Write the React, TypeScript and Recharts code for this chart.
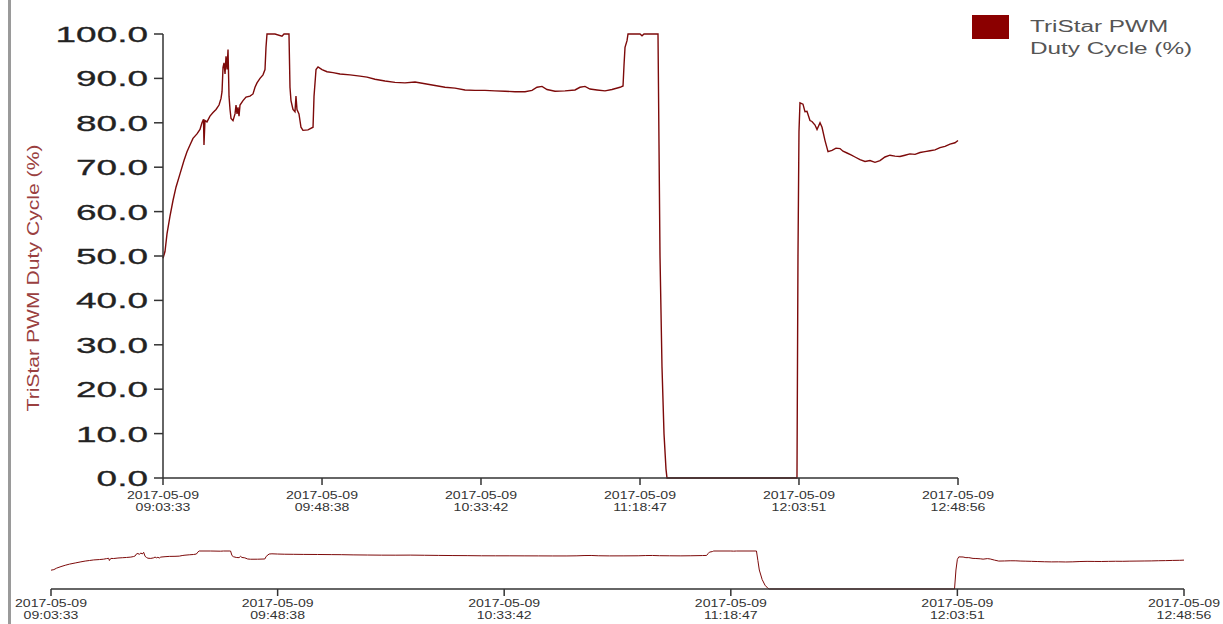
import { LineChart, Line, XAxis, YAxis } from 'recharts';

// seconds elapsed since 2017-05-09 09:03:33
const elapsedSec = [
  0, 34, 68, 119, 170, 221, 289, 357, 408, 459, 510, 578, 629, 663, 689, 697, 714, 748, 799, 851,
  902, 953, 987, 1004, 1021, 1038, 1055, 1072, 1089, 1106, 1123, 1140, 1157, 1191, 1225, 1242, 1259, 1276, 1293, 1310,
  1361, 1412, 1480, 1531, 1565, 1599, 1650, 1701, 1735, 1752, 1769, 1905, 2024, 2058, 2126, 2143, 2160, 2177, 2211, 2245,
  2262, 2279, 2313, 2347, 2381, 2466, 2552, 2569, 2603, 2637, 2705, 2790, 2892, 3011, 3181, 3351, 3470, 3606, 3776, 3946,
  4116, 4287, 4457, 4627, 4797, 4967, 5137, 5307, 5477, 5647, 5817, 5988, 6158, 6277, 6362, 6447, 6532, 6668, 6838, 7008,
  7093, 7178, 7263, 7382, 7518, 7637, 7774, 7825, 7842, 7859, 7893, 7910, 8114, 8148, 8182, 8420, 8437, 8454, 8488, 8522,
  8556, 8573, 10784, 10801, 10818, 10835, 10886, 10920, 10954, 11005, 11039, 11091, 11125, 11176, 11210, 11261, 11312, 11380, 11448, 11516,
  11567, 11635, 11703, 11771, 11856, 11941, 12026, 12111, 12196, 12281, 12366, 12451, 12536, 12621, 12706, 12792, 12877, 12962, 13047, 13132,
  13217, 13302, 13387, 13472, 13523,
];

const dutyCycle = [
  49.5, 51, 55, 59, 62.5, 65.5, 68.5, 71.5, 73.5, 75, 76.5, 77.5, 78.5, 80, 80.8, 75, 80.5, 80.2, 81.5, 82.3,
  83, 84, 85.5, 87, 92.5, 93.5, 91, 95, 92, 96.5, 86, 83, 81, 80.5, 82, 84, 82, 83.5, 81.5, 84,
  85, 85.8, 86, 86.5, 88, 89, 90, 90.8, 92, 97, 100, 100, 99.5, 100, 100, 100, 88, 85, 83, 82.5,
  86, 83, 82, 79, 78.3, 78.4, 79, 86, 92, 92.6, 92, 91.5, 91.3, 91, 90.8, 90.5, 90.3, 89.8, 89.4, 89.1,
  89, 89.2, 88.8, 88.4, 88, 87.8, 87.4, 87.3, 87.3, 87.2, 87.1, 87, 87, 87.3, 88, 88.2, 87.5, 87.1, 87.2, 87.4,
  88, 88.2, 87.6, 87.4, 87.2, 87.5, 88, 88.3, 93, 97, 98.5, 100, 100, 99.6, 100, 100, 75, 50, 25, 10,
  2, 0, 0, 50, 78, 84.5, 84.2, 82.5, 82.6, 80.5, 80.3, 79.5, 78.5, 80, 79, 76, 73.5, 73.8, 74.3, 74.2,
  73.6, 73.2, 72.8, 72.3, 71.7, 71.3, 71.5, 71.1, 71.5, 72.3, 72.7, 72.5, 72.4, 72.7, 73, 72.9, 73.3, 73.5, 73.7, 73.9,
  74.4, 74.7, 75.2, 75.5, 76,
];

const timeTicks = [0, 2705, 5409, 8114, 10818, 13523];
const valueTicks = [0, 10, 20, 30, 40, 50, 60, 70, 80, 90, 100];

const START = 9 * 3600 + 3 * 60 + 33;
const DATE_LABEL = '2017-05-09';
const SERIES_NAME = 'TriStar PWM Duty Cycle (%)';
const LINE_COLOR = '#7d0a0a';

const rows = elapsedSec.map((t, i) => ({ t, duty: dutyCycle[i] }));

const pad = (n: number) => String(n).padStart(2, '0');
const clock = (sec: number) => {
  const s = START + sec;
  return `${pad(Math.floor(s / 3600))}:${pad(Math.floor((s % 3600) / 60))}:${pad(s % 60)}`;
};

const TimeTick = (props: any) => {
  const { x, y, payload, fs = 11, d1 = 12, d2 = 24 } = props;
  return (
    <g transform={`translate(${x},${y}) scale(1.28,1)`}>
      <text x={0} y={d1} textAnchor="middle" fontSize={fs} fill="#333" fontFamily="Liberation Sans, Arial">
        {DATE_LABEL}
      </text>
      <text x={0} y={d2} textAnchor="middle" fontSize={fs} fill="#333" fontFamily="Liberation Sans, Arial">
        {clock(payload.value)}
      </text>
    </g>
  );
};

const ValueTick = (props: any) => {
  const { x, y, payload } = props;
  return (
    <text
      transform={`translate(${x},${y}) scale(1.68,1)`}
      x={0}
      y={8}
      textAnchor="end"
      fontSize={22}
      fill="#222"
      stroke="#222"
      strokeWidth={0.3}
      fontFamily="Liberation Sans, Arial"
    >
      {Number(payload.value).toFixed(1)}
    </text>
  );
};

const AxisTitle = () => (
  <text
    transform="translate(33,278) rotate(-90)"
    textAnchor="middle"
    dominantBaseline="central"
    fontSize={17}
    fill="#9a4040"
    fontFamily="Liberation Sans, Arial"
    textLength={267}
    lengthAdjust="spacingAndGlyphs"
  >
    {SERIES_NAME}
  </text>
);

export default function App() {
  return (
    <div
      style={{
        position: 'absolute',
        left: 0,
        top: 0,
        width: 1223,
        height: 624,
        overflow: 'hidden',
        background: '#fff',
        fontFamily: 'Liberation Sans, Arial, sans-serif',
      }}
    >
      <div style={{ position: 'absolute', left: 8, top: 0, width: 3, height: 624, background: '#9a9a9a' }} />

      <div style={{ position: 'absolute', left: 0, top: 0 }}>
        <LineChart width={1223} height={520} data={rows} margin={{ top: 34, right: 265, bottom: 0, left: 63 }}>
          <XAxis
            type="number"
            dataKey="t"
            domain={[0, 13523]}
            ticks={timeTicks}
            interval={0}
            tickSize={7}
            height={42}
            stroke="#333"
            strokeWidth={1.5}
            tick={<TimeTick />}
          />
          <YAxis
            domain={[0, 100]}
            ticks={valueTicks}
            interval={0}
            width={100}
            tickSize={9}
            tickMargin={6}
            stroke="#333"
            strokeWidth={1.5}
            tick={<ValueTick />}
            label={{ content: <AxisTitle /> }}
          />
          <Line
            type="linear"
            dataKey="duty"
            stroke={LINE_COLOR}
            strokeWidth={1.4}
            dot={false}
            isAnimationActive={false}
          />
        </LineChart>
      </div>

      {/* legend */}
      <div style={{ position: 'absolute', left: 972, top: 15, display: 'flex' }}>
        <div style={{ width: 37, height: 24, background: '#8b0000' }} />
        <div
          style={{
            marginLeft: 21,
            marginTop: 1,
            color: '#555',
            fontSize: 16,
            lineHeight: '22px',
            transform: 'scaleX(1.52)',
            transformOrigin: 'left top',
            whiteSpace: 'nowrap',
          }}
        >
          <div>TriStar PWM</div>
          <div>Duty Cycle (%)</div>
        </div>
      </div>

      {/* overview strip */}
      <div style={{ position: 'absolute', left: 0, top: 540 }}>
        <LineChart width={1223} height={84} data={rows} margin={{ top: 11, right: 39, bottom: 0, left: 51 }}>
          <XAxis
            type="number"
            dataKey="t"
            domain={[0, 13523]}
            ticks={timeTicks}
            interval={0}
            tickSize={7}
            height={35}
            stroke="#333"
            strokeWidth={1.5}
            tick={<TimeTick fs={11} d1={9} d2={21} />}
          />
          <YAxis hide domain={[0, 100]} />
          <Line
            type="linear"
            dataKey="duty"
            stroke={LINE_COLOR}
            strokeWidth={1}
            dot={false}
            isAnimationActive={false}
          />
        </LineChart>
      </div>
    </div>
  );
}
